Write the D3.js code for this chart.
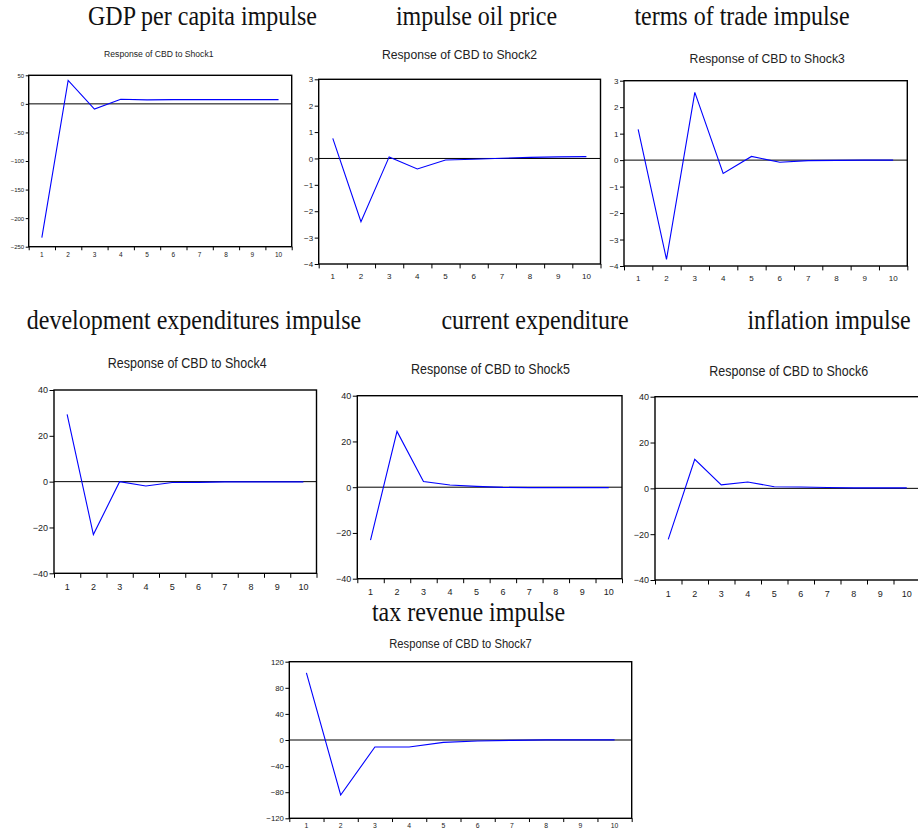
<!DOCTYPE html>
<html>
<head>
<meta charset="utf-8">
<script src="https://cdn.jsdelivr.net/npm/d3@7"></script>
<style>
  html, body { margin: 0; padding: 0; background: #fff; }
  svg { display: block; }
</style>
</head>
<body>
<svg id="chart" width="918" height="829"></svg>
<script>
// ---------------- DATA ----------------
const periods = [1, 2, 3, 4, 5, 6, 7, 8, 9, 10];

const shock1 = [-234, 41, -9, 8, 7, 7.5, 7.5, 7.5, 7.5, 7.5];
const shock2 = [0.76, -2.40, 0.06, -0.40, -0.06, -0.03, 0.01, 0.04, 0.06, 0.07];
const shock3 = [1.16, -3.75, 2.56, -0.50, 0.14, -0.08, -0.02, -0.01, 0.0, 0.0];
const shock4 = [29.4, -23.1, 0.0, -1.9, -0.4, -0.3, -0.1, -0.1, -0.1, -0.1];
const shock5 = [-23.1, 24.4, 2.5, 0.95, 0.36, -0.07, -0.2, -0.2, -0.2, -0.2];
const shock6 = [-22.3, 12.7, 1.5, 2.8, 0.7, 0.6, 0.4, 0.2, 0.2, 0.2];
const shock7 = [103, -84.3, -10.7, -10.7, -3.6, -1.5, -0.5, 0.2, 0.2, 0.2];

const headings = [
  "GDP per capita impulse", "impulse oil price", "terms of trade impulse",
  "development expenditures impulse", "current expenditure", "inflation impulse",
  "tax revenue impulse"
];
const subtitles = [
  "Response of CBD to Shock1", "Response of CBD to Shock2", "Response of CBD to Shock3",
  "Response of CBD to Shock4", "Response of CBD to Shock5", "Response of CBD to Shock6",
  "Response of CBD to Shock7"
];
const yTicks1 = [50, 0, -50, -100, -150, -200, -250];
const yTicks23 = [3, 2, 1, 0, -1, -2, -3, -4];
const yTicks456 = [40, 20, 0, -20, -40];
const yTicks7 = [120, 80, 40, 0, -40, -80, -120];

const seriesList = [shock1, shock2, shock3, shock4, shock5, shock6, shock7];
const tickList = [yTicks1, yTicks23, yTicks23, yTicks456, yTicks456, yTicks456, yTicks7];

// ---------------- LAYOUT (not data) ----------------
const layout = [
  { l: 28.7, t: 75.3, r: 291.7, b: 246.7, sub: [158.8, 56.7, 8.6], tf: 6,  xf: 6.5, xo: 10 },
  { l: 318.7, t: 79.3, r: 600.5, b: 264,  sub: [459.5, 59.3, 12.2], tf: 8, xf: 8, xo: 15 },
  { l: 624,   t: 80.7, r: 907.3, b: 266,  sub: [767.2, 62.7, 12.2], tf: 8, xf: 8, xo: 15 },
  { l: 54,    t: 390,  r: 316.5, b: 573.3, sub: [187.2, 368.3, 12.5], tf: 9, xf: 9, xo: 16.5 },
  { l: 357.3, t: 395.7, r: 622,  b: 578.7, sub: [490.5, 374.3, 12.5], tf: 9, xf: 9, xo: 16.5 },
  { l: 655,   t: 396.7, r: 920,  b: 580,   sub: [788.7, 375.7, 12.5], tf: 9, xf: 9, xo: 16.5 },
  { l: 289.3, t: 661.7, r: 631.7, b: 818.3, sub: [460.5, 648.3, 11.2], tf: 7.8, xf: 6.8, xo: 9.3 }
];
const headPos = [
  [202.5, 25], [476.5, 24.5], [742, 24.5],
  [194, 329], [535, 329], [829, 329],
  [468.5, 620.5]
];

const svg = d3.select("#chart");
const SANS = "'Liberation Sans', Arial, Helvetica, sans-serif";
const SERIF = "'Liberation Serif', 'Times New Roman', serif";

// headings
headings.forEach((h, i) => {
  svg.append("text")
    .attr("transform", `translate(${headPos[i][0]},${headPos[i][1]}) scale(1,1.1)`)
    .attr("text-anchor", "middle")
    .attr("font-family", SERIF)
    .attr("font-size", 24)
    .attr("fill", "#111")
    .text(h);
});

seriesList.forEach((vals, i) => {
  const L = layout[i];
  const ticks = tickList[i];
  const g = svg.append("g");

  const x = d3.scaleBand().domain(periods).range([L.l, L.r]).padding(0);
  const xb = d3.scaleLinear().domain([0.5, 10.5]).range([L.l, L.r]);
  const y = d3.scaleLinear().domain([d3.min(ticks), d3.max(ticks)]).range([L.b, L.t]);

  // subtitle
  g.append("text")
    .attr("transform", `translate(${L.sub[0]},${L.sub[1]}) scale(1,1.1)`)
    .attr("text-anchor", "middle")
    .attr("font-family", SANS)
    .attr("font-size", L.sub[2])
    .attr("fill", "#222")
    .text(subtitles[i]);

  // y axis
  const ya = g.append("g")
    .attr("transform", `translate(${L.l},0)`)
    .call(d3.axisLeft(y).tickValues(ticks).tickSize(L.tf * 0.5).tickPadding(1.5).tickFormat(d3.format("d")));
  ya.select(".domain").remove();
  ya.selectAll("line").attr("stroke", "#000").attr("stroke-width", 1);
  ya.selectAll("text").attr("font-family", SANS).attr("font-size", L.tf).attr("fill", "#222");

  // x boundary ticks
  const boundaries = d3.range(0.5, 11, 1);
  const xt = g.append("g")
    .attr("transform", `translate(0,${L.b})`)
    .call(d3.axisBottom(xb).tickValues(boundaries).tickSize(Math.min(L.xf * 0.55, 4.5)).tickFormat(""));
  xt.select(".domain").remove();
  xt.selectAll("line").attr("stroke", "#000").attr("stroke-width", 1);

  // x labels
  const xl = g.append("g")
    .attr("transform", `translate(0,${L.b})`)
    .call(d3.axisBottom(x).tickSize(0).tickPadding(0));
  xl.select(".domain").remove();
  xl.selectAll("text")
    .attr("font-family", SANS).attr("font-size", L.xf).attr("fill", "#222")
    .attr("dy", null).attr("y", L.xo);

  // zero line
  g.append("line")
    .attr("x1", L.l).attr("x2", L.r)
    .attr("y1", y(0)).attr("y2", y(0))
    .attr("stroke", "#000").attr("stroke-width", 1);

  // response line
  const line = d3.line()
    .x((d, k) => x(periods[k]) + x.bandwidth() / 2)
    .y(d => y(d));
  g.append("path")
    .datum(vals)
    .attr("d", line)
    .attr("fill", "none")
    .attr("stroke", "#0000ff")
    .attr("stroke-width", 1.1);

  // frame
  g.append("rect")
    .attr("x", L.l).attr("y", L.t)
    .attr("width", L.r - L.l).attr("height", L.b - L.t)
    .attr("fill", "none")
    .attr("stroke", "#000")
    .attr("stroke-width", 1.4);
});
</script>
</body>
</html>
